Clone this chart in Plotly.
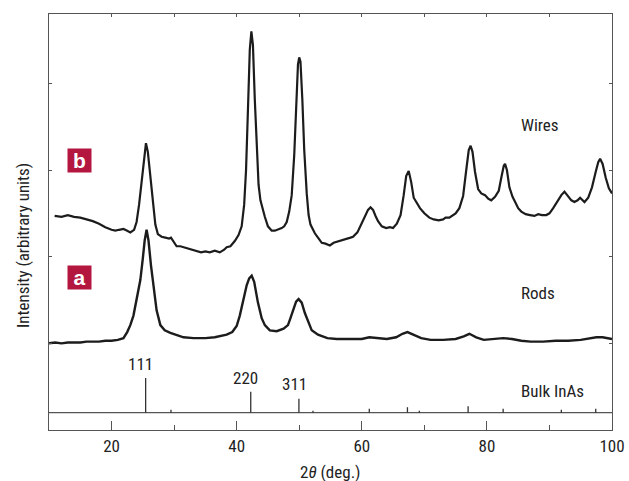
import plotly.graph_objects as go

# ---- data (2theta in degrees, intensity in arbitrary units) ----
wires_x = [10.9, 12, 13, 14, 15, 16, 17, 18, 19, 20, 20.6, 21.2, 21.9, 22.5, 23.0, 23.6, 24.0, 24.4, 24.8, 25.2,
           25.5, 25.8, 26.2, 26.6, 27.0, 27.4, 28.0, 28.6, 29.2, 29.5, 29.9, 30.4, 31.0, 31.5, 32.0, 32.8, 33.6, 34.3,
           35.0, 35.7, 36.5, 37.3, 38.0, 38.4, 39.0, 39.7, 40.3, 40.8, 41.2, 41.5, 41.8, 42.1, 42.35, 42.6, 42.9, 43.2,
           43.5, 43.8, 44.2, 44.5, 45.0, 45.6, 46.1, 46.6, 47.2, 47.6, 48.0, 48.4, 48.8, 49.2, 49.5, 49.8, 50.0, 50.2,
           50.5, 50.8, 51.2, 51.5, 51.8, 52.2, 52.5, 53.0, 53.6, 54.2, 54.9, 55.5, 56.0, 56.8, 57.6, 58.2, 58.6, 59.3,
           59.9, 60.5, 61.0, 61.4, 61.8, 62.2, 62.6, 63.2, 63.9, 64.5, 65.0, 65.6, 66.2, 66.7, 67.1, 67.5, 67.9, 68.3,
           68.7, 69.3, 70.0, 70.8, 71.5, 72.3, 73.0, 73.4, 74.0, 74.5, 75.0, 75.6, 76.2, 76.7, 77.1, 77.4, 77.7, 78.1,
           78.6, 79.1, 79.7, 80.2, 80.7, 81.3, 81.9, 82.3, 82.7, 82.9, 83.2, 83.6, 84.1, 84.6, 85.0, 85.5, 86.2, 86.9,
           87.6, 88.2, 88.8, 89.5, 90.0, 90.6, 91.3, 91.9, 92.4, 92.9, 93.5, 94.0, 94.5, 94.9, 95.3, 95.6, 96.2, 96.8,
           97.4, 97.8, 98.1, 98.5, 99.0, 99.5, 100.0]
wires_y = [247, 246, 248, 246, 245, 243, 241, 238, 234, 231, 230, 231, 232, 230, 228, 231, 240, 260, 286, 317,
           331, 321, 291, 260, 237, 226, 223, 222, 221, 222, 218, 212, 212, 211, 210, 208, 206, 205,
           206, 205, 207, 205, 208, 211, 212, 218, 225, 235, 260, 300, 369, 439, 460, 444, 381, 323,
           283, 265, 253, 246, 235, 230, 230, 231, 233, 235, 240, 252, 271, 317, 375, 422, 430, 425,
           381, 323, 273, 248, 237, 231, 227, 222, 216, 215, 213, 216, 217, 219, 220, 222, 223, 228,
           237, 246, 254, 257, 254, 247, 241, 235, 233, 234, 233, 238, 248, 271, 293, 299, 286, 268,
           263, 256, 250, 245, 243, 242, 243, 245, 245, 247, 250, 256, 270, 300, 323, 328, 321, 298,
           278, 273, 271, 267, 265, 269, 276, 291, 305, 307, 300, 280, 269, 262, 256, 252, 249, 248,
           247, 249, 248, 248, 250, 256, 264, 271, 275, 270, 265, 263, 265, 268, 265, 263, 268, 280,
           298, 309, 313, 307, 291, 279, 273]

rods_x = [10, 11, 12, 13, 14, 15, 16, 17, 18, 19, 20, 21, 21.9, 22.5, 23.0, 23.5, 24.0, 24.6, 25.0, 25.3,
          25.6, 25.9, 26.3, 26.7, 27.2, 27.8, 28.5, 29.4, 30.5, 31.5, 33.1, 35.0, 36.5, 38.4, 39.3, 40.0, 40.5,
          41.0, 41.6, 42.0, 42.4, 42.8, 43.4, 44.0, 44.5, 45.3, 46.4, 47.5, 48.2, 48.6, 49.0, 49.5, 49.9, 50.4,
          50.9, 51.5, 52.0, 53.0, 54.5, 56, 58, 60, 61.2, 62.5, 64, 65.5, 66.5, 67.3, 68.2, 69.5, 71, 73, 75,
          76.3, 77.2, 78.3, 79.5, 81, 82.6, 84, 85.5, 87, 89, 91, 93, 95, 96.5, 97.5, 98.5, 100]
rods_y = [100, 101, 100, 101, 101, 101, 102, 102, 102, 103, 103, 104, 106, 113, 121, 132, 150, 173, 198, 219,
          231, 219, 190, 165, 138, 121, 115, 112, 109, 107, 106, 106, 107, 110, 113, 120, 132,
          147, 167, 175, 178, 171, 147, 129, 121, 115, 114, 117, 121, 129, 137, 148, 151, 147,
          135, 123, 115, 110, 106, 105, 105, 105, 107, 106, 105, 107, 111, 113, 110, 106, 104, 104, 105,
          108, 111, 107, 104, 105, 106, 105, 103, 102, 102, 103, 103, 104, 106, 107, 107, 105]

# bulk InAs reference pattern
bulk_pos = [25.45, 29.5, 42.25, 49.95, 52.2, 61.2, 67.3, 69.2, 77.0, 82.6, 91.9, 97.4]
bulk_int = [40, 3.5, 24, 16, 2.3, 4.6, 6.3, 2.3, 7.5, 4.6, 3.5, 4.6]
bulk_base = 20
bulk_labels = ["111", "220", "311"]
bulk_label_x = [24.7, 41.4, 49.2]
bulk_label_y = [76, 60, 53]

FONT = "Liberation Sans Narrow, Arial Narrow, Roboto Condensed, Liberation Sans, sans-serif"
AX = "#555555"
LINE = "#1c1c1c"

fig = go.Figure()

fig.add_trace(go.Scatter(x=wires_x, y=wires_y, mode="lines",
                         line=dict(color=LINE, width=2.2), hoverinfo="skip"))
fig.add_trace(go.Scatter(x=rods_x, y=rods_y, mode="lines",
                         line=dict(color=LINE, width=2.4), hoverinfo="skip"))

# baseline of the bulk pattern
fig.add_trace(go.Scatter(x=[10, 100], y=[bulk_base, bulk_base], mode="lines",
                         line=dict(color=AX, width=1.3), hoverinfo="skip"))
sx, sy = [], []
for p, h in zip(bulk_pos, bulk_int):
    sx += [p, p, None]
    sy += [bulk_base, bulk_base + h, None]
fig.add_trace(go.Scatter(x=sx, y=sy, mode="lines",
                         line=dict(color="#333333", width=1.3), hoverinfo="skip"))

# invisible trace to anchor the top axis
fig.add_trace(go.Scatter(x=[10], y=[0], xaxis="x2", mode="markers",
                         marker=dict(opacity=0), hoverinfo="skip"))

ann = []
for t, x, y in zip(bulk_labels, bulk_label_x, bulk_label_y):
    ann.append(dict(x=x, y=y, text=t, showarrow=False, xanchor="center", yanchor="middle",
                    font=dict(family=FONT, size=17, color="#222")))

for t, y in [("Wires", 352), ("Rods", 158), ("Bulk InAs", 45)]:
    ann.append(dict(x=85.1, y=y, text=t, showarrow=False, xanchor="left", yanchor="middle",
                    font=dict(family=FONT, size=17, color="#222")))

for t, y in [("b", 311), ("a", 176)]:
    ann.append(dict(x=14.93, y=y, text="<b>%s</b>" % t, showarrow=False, xanchor="center",
                    yanchor="middle", width=23, height=23, borderpad=0, bgcolor="#B3173F",
                    font=dict(family="Liberation Sans, Arial, sans-serif", size=21, color="white")))

ann.append(dict(x=0.5, y=0, xref="paper", yref="paper", yanchor="top", xanchor="center",
                yshift=-30, text="2<i>θ</i> (deg.)", showarrow=False,
                font=dict(family=FONT, size=17, color="#222")))
ann.append(dict(x=0, y=0.5, xref="paper", yref="paper", xanchor="center", yanchor="middle",
                xshift=-26, yshift=-24, textangle=-90, text="Intensity (arbitrary units)",
                showarrow=False, font=dict(family=FONT, size=17, color="#222")))

fig.update_layout(
    width=629, height=481,
    margin=dict(l=49, r=17, t=14, b=51, autoexpand=False),
    paper_bgcolor="white", plot_bgcolor="white",
    showlegend=False,
    annotations=ann,
    xaxis=dict(range=[10, 100], tickvals=[20, 40, 60, 80, 100], ticks="inside", ticklen=9,
               tickwidth=1.2, tickcolor=AX, showline=True, linecolor=AX, linewidth=1.3,
               showgrid=False, zeroline=False, automargin=False,
               minor=dict(tickvals=[30, 50, 70, 90], ticks="inside", ticklen=5, tickcolor=AX,
                          tickwidth=1.2, showgrid=False),
               tickfont=dict(family=FONT, size=17, color="#222")),
    xaxis2=dict(range=[10, 100], overlaying="x", side="top", anchor="y",
                tickvals=[20, 30, 40, 50, 60, 70, 80, 90], ticks="inside", ticklen=3,
                tickcolor=AX, showline=True, linecolor=AX, linewidth=1.3,
                showticklabels=False, showgrid=False, zeroline=False),
    yaxis=dict(range=[0, 480], tickvals=[100, 200, 300, 400], ticks="inside", ticklen=3,
               tickcolor=AX, showline=True, linecolor=AX, linewidth=1.3, mirror="ticks",
               showticklabels=False, showgrid=False, zeroline=False),
)

fig.write_html("out.html", config={"displayModeBar": False},
               post_script="document.body.style.margin='0';document.body.style.overflow='hidden';")
